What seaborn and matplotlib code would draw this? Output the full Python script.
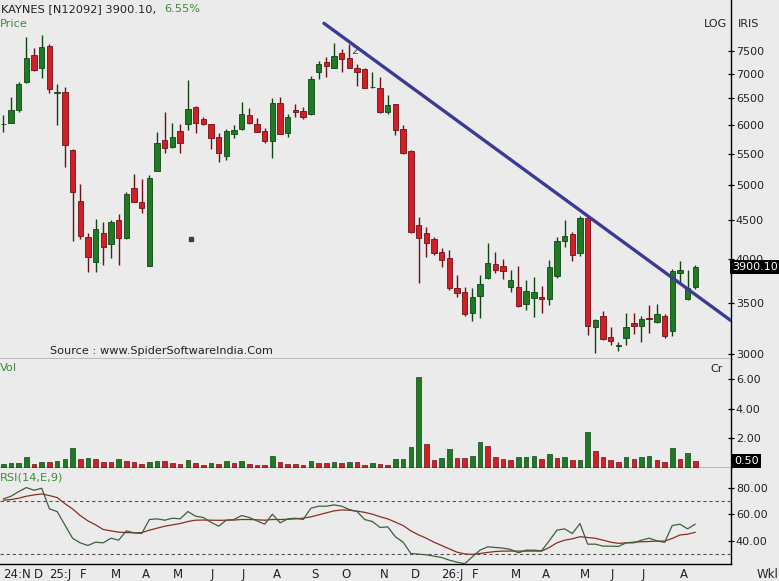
import numpy as np
import pandas as pd
import matplotlib
matplotlib.use("Agg")
import matplotlib.pyplot as plt
import matplotlib.transforms as mtransforms
from matplotlib.ticker import NullLocator
import seaborn as sns

# -------------------------------
# Data: weekly candles, Nov-24 .. Aug-26
# -------------------------------

opens = [6005, 6038, 6274, 6822, 7407, 7117, 7619, 6600, 6631, 5560,
         4769, 4277, 3958, 4321, 4184, 4499, 4256, 4951, 4746, 3917,
         5222, 5730, 5605, 5888, 6014, 6336, 6100, 6014, 5786, 5463,
         5827, 5918, 6178, 6006, 5888, 5718, 6403, 5847, 6274, 6255,
         6191, 7032, 7260, 7130, 7461, 7348, 7117, 7096, 6720, 6705,
         6242, 6389, 5923, 5543, 4430, 4321, 4247, 4087, 4006, 3659,
         3616, 3399, 3578, 3771, 3938, 3914, 3677, 3677, 3490, 3550,
         3561, 3543, 3797, 4226, 4312, 4068, 4522, 3257, 3368, 3160,
         3070, 3145, 3292, 3267, 3345, 3302, 3368, 3219, 3836, 3540,
         3677]
highs = [6178, 6530, 6834, 7829, 7560, 7869, 7650, 6779, 6719, 5575,
         5010, 4321, 4508, 4476, 4499, 4576, 4901, 5170, 5092, 5153,
         5865, 6231, 6027, 6014, 6869, 6345, 6147, 6020, 5847, 5923,
         5994, 6434, 6306, 6118, 5936, 6511, 6530, 6199, 6381, 6325,
         6958, 7276, 7369, 7676, 7545, 7660, 7202, 7117, 7045, 6925,
         6563, 6395, 5994, 5560, 4543, 4407, 4277, 4129, 4108, 3808,
         3677, 3659, 3808, 4193, 4080, 3998, 3867, 3914, 3752, 3782,
         3684, 3986, 4277, 4499, 4342, 4553, 4530, 3335, 3420, 3252,
         3114, 3399, 3399, 3365, 3478, 3486, 3383, 3880, 3977, 3867,
         3925]
lows = [5870, 6030, 6237, 6815, 7066, 6904, 6599, 5994, 5284, 4226,
        4244, 3848, 3841, 3925, 4006, 3925, 4250, 4750, 4591, 3910,
        5215, 5505, 5600, 5515, 5906, 5847, 5994, 5576, 5356, 5394,
        5759, 5910, 6006, 5865, 5673, 5431, 5830, 5786, 6136, 6100,
        6185, 6890, 6937, 7125, 7045, 7117, 6745, 6699, 6699, 6212,
        6191, 5815, 5500, 4321, 3722, 4025, 4045, 3899, 3641, 3561,
        3368, 3318, 3342, 3763, 3836, 3760, 3622, 3460, 3427, 3358,
        3393, 3478, 3771, 4141, 3977, 4033, 3176, 3006, 3129, 3082,
        3030, 3082, 3187, 3114, 3200, 3292, 3145, 3170, 3733, 3532,
        3648]
closes = [6020, 6274, 6787, 7335, 7081, 7583, 6685, 6615, 5643, 4901,
          4285, 4018, 4377, 4149, 4476, 4256, 4867, 4755, 4660, 5103,
          5673, 5588, 5776, 5673, 6293, 6027, 6006, 5759, 5505, 5888,
          5906, 6199, 6027, 5876, 5712, 6403, 5835, 6136, 6231, 6147,
          6890, 7202, 7172, 7385, 7313, 7130, 7045, 6711, 6735, 6242,
          6368, 5900, 5505, 4342, 4256, 4193, 4068, 3986, 3659, 3611,
          3382, 3561, 3703, 3946, 3867, 3859, 3752, 3468, 3630, 3622,
          3540, 3899, 4222, 4289, 4045, 4530, 3264, 3325, 3136, 3122,
          3080, 3252, 3264, 3332, 3338, 3386, 3167, 3855, 3867, 3660,
          3900.10]

# volume in crores
volume = [0.26, 0.33, 0.35, 0.74, 0.26, 0.42, 0.40, 0.49, 0.60, 1.34,
          0.60, 0.67, 0.60, 0.42, 0.40, 0.60, 0.49, 0.42, 0.26, 0.42,
          0.49, 0.47, 0.35, 0.26, 0.53, 0.35, 0.20, 0.31, 0.29, 0.49,
          0.35, 0.49, 0.26, 0.20, 0.18, 0.80, 0.42, 0.26, 0.24, 0.20,
          0.49, 0.35, 0.33, 0.42, 0.35, 0.42, 0.40, 0.20, 0.31, 0.26,
          0.20, 0.58, 0.60, 1.39, 6.12, 1.59, 0.53, 0.65, 1.25, 0.69,
          0.68, 0.83, 1.77, 1.48, 0.71, 0.58, 0.53, 0.71, 0.72, 0.80,
          0.60, 0.94, 0.69, 0.71, 0.53, 0.54, 2.45, 1.14, 0.71, 0.53,
          0.42, 0.71, 0.60, 0.71, 0.83, 0.53, 0.42, 1.32, 0.58, 0.98,
          0.50]

rsi = [71.5, 73.5, 77, 80, 78, 79.5, 64, 62, 52, 42,
       38.5, 36.5, 39, 38.5, 42, 40.5, 47.5, 46, 45.5, 56,
       56.5, 55.5, 57, 56.5, 62, 58.5, 57.5, 54, 51, 55.5,
       56, 59, 57.5, 55, 52.5, 60, 53.5, 56.5, 57, 56,
       64.5, 66, 66, 67, 66, 63.5, 62, 56, 54.5, 50,
       50.5, 43, 39, 30.5, 30, 29.5, 28.5, 27.5, 25.5, 24,
       22.8, 28, 33, 35.5, 35, 34.5, 33.5, 31, 33, 33,
       32.5, 40, 48, 49, 45.5, 53, 37.5, 37.5, 36, 36,
       35.8, 38.5, 38.5, 40.5, 42, 40, 38.8, 51.5, 52.5, 49,
       52.6]
rsi_signal = [70.5, 71, 72, 73.5, 74.5, 75.2, 74, 72.5, 68, 64,
              59, 55, 52, 48.5, 47.5, 46.5, 46.2, 46, 46.2, 48,
              49.5, 51, 52, 53, 54.5, 55.5, 55.6, 55.5, 55.4, 55.5,
              55.6, 56, 56, 55.8, 55.5, 56, 56, 56.2, 56.5, 57,
              58, 59.5, 61, 62.5, 63.2, 63, 62.3, 61.4, 60, 58.1,
              56.5, 54, 51.5, 47.5, 44.5, 42, 39, 36.5, 34, 31.5,
              30.2, 29.8, 30.5, 31.3, 32, 32.3, 32.3, 32.3, 32.3, 32.3,
              32.3, 35, 38.5, 40.5, 41.5, 43.1, 42.5, 41.9, 40.5, 39,
              38.1, 38.5, 39, 39.3, 39.5, 39.8, 39.8, 41.8, 44.4, 45,
              46.4]

month_labels = ["24:N", "D", "25:J", "F", "M", "A", "M", "J", "J", "A", "S",
                "O", "N", "D", "26:J", "F", "M", "A", "M", "J", "J", "A"]
month_start = [0, 4, 6, 10, 14, 18, 22, 27, 31, 35, 40,
               44, 49, 53, 57, 61, 66, 70, 75, 79, 83, 88]

# trendline drawn on the chart (candle index, price)
trend_idx = [41.7, 94.6]
trend_price = [8155, 3320]

price_ticks = [3000, 3500, 4000, 4500, 5000, 5500, 6000, 6500, 7000, 7500]
vol_ticks = [2, 4, 6]
rsi_ticks = [40, 60, 80]

# -------------------------------
# Frame
# -------------------------------

n = len(closes)
idx = np.arange(n)
df = pd.DataFrame({"o": opens, "h": highs, "l": lows, "c": closes,
                   "vol": volume, "rsi": rsi, "sig": rsi_signal}, index=idx)

BG = "#ebebeb"
GREEN = "#1f7a24"
GREEN_DK = "#0e4512"
RED = "#d21f27"
RED_DK = "#6e1014"
LBL_GREEN = "#3e8a3e"
TXT = "#222222"

sns.set_theme(style="white", rc={"axes.facecolor": BG, "figure.facecolor": BG,
                                 "savefig.facecolor": BG})
plt.rcParams["font.family"] = ["DejaVu Sans"]

fig = plt.figure(figsize=(7.79, 5.81), dpi=100)
W = 731 / 779
ax_p = fig.add_axes([0, 1 - 358.5 / 581, W, 358.5 / 581])
ax_v = fig.add_axes([0, 1 - 468 / 581, W, 109.5 / 581])
ax_r = fig.add_axes([0, 1 - 564 / 581, W, 96 / 581])

# -------------------------------
# Price candles
# -------------------------------

up = (df.c >= df.o).to_numpy()
body_lo = np.minimum(df.o, df.c)
body_hi = np.maximum(df.o, df.c)
body_h = np.maximum(body_hi - body_lo, body_lo * 0.002)

ax_p.vlines(idx, df.l, df.h, colors=np.where(up, GREEN_DK, RED_DK), lw=1, zorder=2)
ax_p.bar(idx, body_h, bottom=body_lo, width=0.7,
         color=np.where(up, GREEN, RED), edgecolor=np.where(up, GREEN_DK, RED_DK),
         linewidth=0.6, zorder=3)

ax_p.plot(trend_idx, trend_price, color="#3b3b96", lw=2.4,
          solid_capstyle="round", zorder=4)
ax_p.text(45.7, 7500, "2", fontsize=8, color="#444444", ha="center", va="center")
ax_p.plot([24.4], [4249], marker="s", ms=2.2, color="#3a3a6a", lw=0)

ax_p.set_yscale("log")
ax_p.set_ylim(2959, 8750)
ax_p.yaxis.set_minor_locator(NullLocator())
ax_p.set_yticks(price_ticks)
ax_p.set_yticklabels([str(t) for t in price_ticks])

# -------------------------------
# Volume (colour by volume change)
# -------------------------------

vol_up = np.r_[True, np.diff(df.vol.to_numpy()) >= 0]
ax_v.bar(idx, df.vol, width=0.6, color=np.where(vol_up, GREEN, RED),
         edgecolor=np.where(vol_up, GREEN_DK, RED_DK), linewidth=0.5)
ax_v.set_ylim(-0.005, 7.39)
ax_v.set_yticks(vol_ticks)
ax_v.set_yticklabels([f"{t:.2f}" for t in vol_ticks])

# -------------------------------
# RSI
# -------------------------------

ax_r.axhline(70, color="#555555", lw=0.8, ls=(0, (3, 2.5)))
ax_r.axhline(30, color="#555555", lw=0.8, ls=(0, (3, 2.5)))
sns.lineplot(x=idx, y=df.sig, ax=ax_r, color="#8a2e22", lw=0.9)
sns.lineplot(x=idx, y=df.rsi, ax=ax_r, color="#3d5f3d", lw=0.9)
ax_r.set_ylim(22.6, 94.7)
ax_r.set_yticks(rsi_ticks)
ax_r.set_yticklabels([f"{t:.2f}" for t in rsi_ticks])
ax_r.set_ylabel("")

ax_r.set_xticks(month_start)
ax_r.set_xticklabels(month_labels, ha="left")
ax_r.set_xticks(idx, minor=True)
ax_r.tick_params(axis="x", which="major", length=0, pad=3, labelsize=8.5, labelcolor=TXT)
ax_r.tick_params(axis="x", which="minor", length=2.5, width=0.8, color=TXT, direction="out")

# -------------------------------
# Common styling
# -------------------------------

for ax in (ax_p, ax_v, ax_r):
    ax.set_xlim(-0.43, 94.64)
    ax.yaxis.tick_right()
    ax.tick_params(axis="y", which="major", direction="inout", length=5, width=0.9,
                   color="black", pad=1, labelsize=8, labelcolor=TXT, right=True, left=False)
    for side in ("top", "left"):
        ax.spines[side].set_visible(False)
    for side in ("right", "bottom"):
        ax.spines[side].set_visible(True)
        ax.spines[side].set_color("black")
        ax.spines[side].set_linewidth(1)
    ax.grid(False)

for ax in (ax_p, ax_v):
    ax.tick_params(axis="x", which="both", bottom=False, labelbottom=False)

# last value boxes
box = dict(boxstyle="square,pad=0.18", fc="black", ec="none")
tp = mtransforms.blended_transform_factory(ax_p.transAxes, ax_p.transData)
ax_p.text(1.002, closes[-1], f"{closes[-1]:.2f}", transform=tp, color="white",
          fontsize=8, va="center", ha="left", bbox=box, zorder=10)
tv = mtransforms.blended_transform_factory(ax_v.transAxes, ax_v.transData)
ax_v.text(1.004, volume[-1], f"{volume[-1]:.2f}", transform=tv, color="white",
          fontsize=8, va="center", ha="left", bbox=box, zorder=10)

# -------------------------------
# Header / panel labels
# -------------------------------

def fy(px):
    return 1 - px / 581

fig.text(1 / 779, fy(9), "KAYNES [N12092] 3900.10,", fontsize=8.2, color=TXT, va="center")
fig.text(164 / 779, fy(9), "6.55%", fontsize=8.2, color=LBL_GREEN, va="center")
fig.text(0, fy(24), "Price", fontsize=8.2, color=LBL_GREEN, va="center")
fig.text(704 / 779, fy(24), "LOG", fontsize=8, color=TXT, va="center")
fig.text(738 / 779, fy(24), "IRIS", fontsize=8, color=TXT, va="center")
fig.text(50 / 779, fy(351), "Source : www.SpiderSoftwareIndia.Com", fontsize=8.1,
         color=TXT, va="center")
fig.text(0, fy(368), "Vol", fontsize=8.2, color=LBL_GREEN, va="center")
fig.text(710 / 779, fy(369), "Cr", fontsize=8, color=TXT, va="center")
fig.text(0, fy(478), "RSI(14,E,9)", fontsize=8.2, color=LBL_GREEN, va="center")
fig.text(757 / 779, fy(574), "Wkl", fontsize=8.5, color=TXT, va="center")

fig.savefig("out.png", dpi=100)
plt.close(fig)
